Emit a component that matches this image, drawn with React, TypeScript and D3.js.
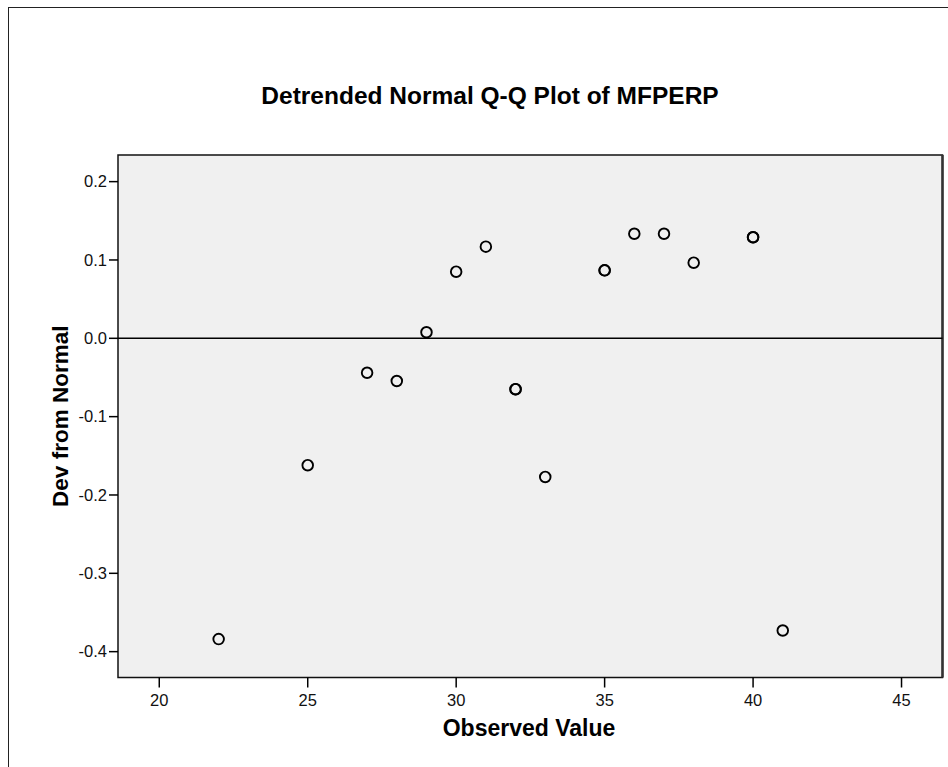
import React from 'react';
import * as d3 from 'd3';

// observed values (ties repeated) and their deviation from normal
const observed = [22, 25, 27, 28, 29, 30, 31, 32, 32, 33, 35, 35, 36, 37, 38, 40, 40, 41];
const deviation = [-0.384, -0.162, -0.044, -0.0545, 0.0077, 0.085, 0.117, -0.065, -0.065, -0.177, 0.0868, 0.0868, 0.1335, 0.1335, 0.0965, 0.129, 0.129, -0.373];
const xTicks = [20, 25, 30, 35, 40, 45];
const yTicks = [0.2, 0.1, 0.0, -0.1, -0.2, -0.3, -0.4];

const title = 'Detrended Normal Q-Q Plot of MFPERP';
const xLabel = 'Observed Value';
const yLabel = 'Dev from Normal';

const W = 948;
const H = 767;
const plot = { left: 118, top: 155, right: 942.5, bottom: 677.5 };
const font = 'Arial, "Liberation Sans", sans-serif';
const fmt = (t: number) => d3.format('.1f')(t).replace('\u2212', '-');

export default function App() {
  const x = d3.scaleLinear().domain([18.61, 46.38]).range([plot.left, plot.right]);
  const y = d3.scaleLinear().domain([-0.433, 0.234]).range([plot.bottom, plot.top]);
  const points = observed.map((v, i) => ({ v, d: deviation[i] }));

  return (
    <svg width={W} height={H} style={{ position: 'absolute', left: 0, top: 0, background: '#fff' }}>
      <rect x={8.5} y={7.5} width={W + 20} height={H + 20} fill="#fff" stroke="#222" strokeWidth={1} />
      <text x={490} y={104} textAnchor="middle" fontFamily={font} fontWeight="bold" fontSize={24.5} fill="#000">
        {title}
      </text>

      <rect x={plot.left} y={plot.top} width={plot.right - plot.left} height={plot.bottom - plot.top}
        fill="#f0f0f0" stroke="#111" strokeWidth={1.5} />
      <line x1={plot.right} x2={plot.right} y1={plot.top} y2={plot.bottom} stroke="#333" strokeWidth={2.5} />

      {yTicks.map(t => (
        <g key={'y' + t} transform={`translate(0,${y(t)})`}>
          <line x1={plot.left - 9} x2={plot.left} stroke="#000" strokeWidth={1.5} />
          <text x={plot.left - 11} dy="0.35em" textAnchor="end" fontFamily={font} fontSize={16.5} fill="#111">
            {fmt(t)}
          </text>
        </g>
      ))}
      {xTicks.map(t => (
        <g key={'x' + t} transform={`translate(${x(t)},0)`}>
          <line y1={plot.bottom} y2={plot.bottom + 10} stroke="#000" strokeWidth={1.5} />
          <text y={705.5} textAnchor="middle" fontFamily={font} fontSize={16.5} fill="#111">{t}</text>
        </g>
      ))}

      <line x1={plot.left} x2={plot.right} y1={y(0)} y2={y(0)} stroke="#000" strokeWidth={1.5} />

      {points.map((p, i) => (
        <circle key={i} cx={x(p.v)} cy={y(p.d)} r={5.3} fill="none" stroke="#000" strokeWidth={1.9} />
      ))}

      <text x={529} y={736} textAnchor="middle" fontFamily={font} fontWeight="bold" fontSize={23} fill="#000">
        {xLabel}
      </text>
      <text transform={`translate(68,${(plot.top + plot.bottom) / 2}) rotate(-90)`} textAnchor="middle"
        fontFamily={font} fontWeight="bold" fontSize={22.5} fill="#000">
        {yLabel}
      </text>
    </svg>
  );
}
